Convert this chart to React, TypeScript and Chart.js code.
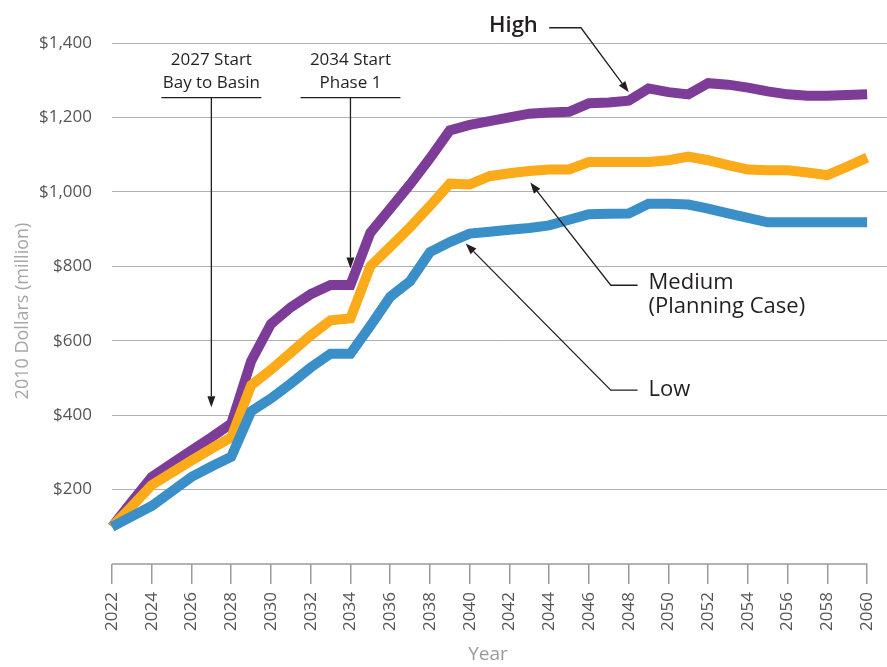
import React, { useEffect, useRef } from "react";
import { Chart, registerables } from "chart.js";

Chart.register(...registerables);

// ---------- data ----------
const years = [
  2022, 2023, 2024, 2025, 2026, 2027, 2028, 2029, 2030, 2031,
  2032, 2033, 2034, 2035, 2036, 2037, 2038, 2039, 2040, 2041,
  2042, 2043, 2044, 2045, 2046, 2047, 2048, 2049, 2050, 2051,
  2052, 2053, 2054, 2055, 2056, 2057, 2058, 2059, 2060,
];

const highValues = [
  100, 168, 234, 270, 305, 340, 377, 545, 645, 690,
  725, 750, 750, 890, 955, 1020, 1090, 1165, 1180, 1190,
  1200, 1210, 1213, 1215, 1238, 1240, 1245, 1278, 1268, 1262,
  1292, 1288, 1280, 1270, 1262, 1258, 1258, 1260, 1262,
];

const mediumValues = [
  100, 155, 212, 245, 278, 310, 340, 480, 522, 568,
  614, 655, 660, 800, 852, 905, 962, 1022, 1020, 1042,
  1050, 1056, 1060, 1060, 1080, 1080, 1080, 1080, 1085, 1095,
  1085, 1072, 1060, 1058, 1058, 1052, 1045, 1068, 1092,
];

const lowValues = [
  100, 128, 156, 195, 234, 262, 288, 410, 445, 485,
  528, 565, 565, 640, 718, 760, 838, 865, 888, 893,
  898, 903, 910, 925, 940, 941, 942, 968, 968, 966,
  955, 942, 930, 918, 918, 918, 918, 918, 918,
];

const xTickYears = [
  2022, 2024, 2026, 2028, 2030, 2032, 2034, 2036, 2038, 2040,
  2042, 2044, 2046, 2048, 2050, 2052, 2054, 2056, 2058, 2060,
];
const yTickValues = [0, 200, 400, 600, 800, 1000, 1200, 1400];
const yTickLabels = ["", "$200", "$400", "$600", "$800", "$1,000", "$1,200", "$1,400"];

const seriesNames = ["High", "Medium", "Low"];
const yAxisTitle = "2010 Dollars (million)";
const xAxisTitle = "Year";

// ---------- styles ----------
const FONT = "'Open Sans', 'Noto Sans', sans-serif";
const colors = { high: "#7D3C98", medium: "#FBAA1A", low: "#3A8FC8" };
const INK = "#231f20";

function drawArrow(ctx: CanvasRenderingContext2D, pts: number[][]) {
  const n = pts.length;
  const [tx, ty] = pts[n - 1];
  const [px, py] = pts[n - 2];
  const ang = Math.atan2(ty - py, tx - px);
  const headLen = 11;
  const headHalf = 4;
  const bx = tx - headLen * Math.cos(ang);
  const by = ty - headLen * Math.sin(ang);
  ctx.save();
  ctx.strokeStyle = INK;
  ctx.fillStyle = INK;
  ctx.lineWidth = 1.3;
  ctx.beginPath();
  ctx.moveTo(pts[0][0], pts[0][1]);
  for (let i = 1; i < n - 1; i++) ctx.lineTo(pts[i][0], pts[i][1]);
  ctx.lineTo(bx, by);
  ctx.stroke();
  ctx.beginPath();
  ctx.moveTo(tx, ty);
  ctx.lineTo(bx + headHalf * Math.sin(ang), by - headHalf * Math.cos(ang));
  ctx.lineTo(bx - headHalf * Math.sin(ang), by + headHalf * Math.cos(ang));
  ctx.closePath();
  ctx.fill();
  ctx.restore();
}

const annotationPlugin = {
  id: "customAnnotations",
  afterDraw(chart: any) {
    const { ctx, scales, chartArea } = chart;
    const xs = scales.x;
    const ys = scales.y;
    const X = (v: number) => xs.getPixelForValue(v);
    const Y = (v: number) => ys.getPixelForValue(v);

    ctx.save();
    // x axis line from first to last year
    ctx.strokeStyle = "#9a9a9a";
    ctx.lineWidth = 1.5;
    ctx.beginPath();
    ctx.moveTo(X(xTickYears[0]), chartArea.bottom);
    ctx.lineTo(X(xTickYears[xTickYears.length - 1]), chartArea.bottom);
    ctx.stroke();

    // axis titles
    ctx.fillStyle = "#a6a6a6";
    ctx.font = `18px ${FONT}`;
    ctx.textAlign = "center";
    ctx.textBaseline = "middle";
    ctx.save();
    ctx.translate(23, 311);
    ctx.rotate(-Math.PI / 2);
    ctx.fillText(yAxisTitle, 0, 0);
    ctx.restore();
    ctx.fillStyle = "#9a9a9a";
    ctx.font = `19px ${FONT}`;
    ctx.fillText(xAxisTitle, 488, 655);

    // start annotations
    ctx.fillStyle = INK;
    ctx.font = `17px ${FONT}`;
    const starts = [
      { year: 2027, l1: "2027 Start", l2: "Bay to Basin", tip: 421, half: 50 },
      { year: 2034, l1: "2034 Start", l2: "Phase 1", tip: 794, half: 50 },
    ];
    starts.forEach((s) => {
      const cx = X(s.year);
      ctx.textAlign = "center";
      ctx.fillText(s.l1, cx, Y(1355));
      ctx.fillText(s.l2, cx, Y(1293));
      ctx.strokeStyle = INK;
      ctx.lineWidth = 1.3;
      ctx.beginPath();
      ctx.moveTo(cx - s.half, Y(1253));
      ctx.lineTo(cx + s.half, Y(1253));
      ctx.stroke();
      drawArrow(ctx, [[cx, Y(1253)], [cx, Y(s.tip)]]);
    });

    // series labels
    ctx.font = `600 22px ${FONT}`;
    ctx.textAlign = "center";
    ctx.fillText(seriesNames[0], X(2042.2), Y(1446));
    drawArrow(ctx, [[X(2044.0), Y(1441)], [X(2045.6), Y(1441)], [X(2048.0), Y(1268)]]);

    ctx.font = `22px ${FONT}`;
    ctx.textAlign = "left";
    ctx.fillText(seriesNames[1], X(2049.0), Y(756));
    ctx.fillText("(Planning Case)", X(2049.0), Y(690));
    drawArrow(ctx, [[X(2048.45), Y(749)], [X(2047.1), Y(749)], [X(2043.05), Y(1025)]]);

    ctx.fillText(seriesNames[2], X(2049.0), Y(467));
    drawArrow(ctx, [[X(2048.45), Y(467)], [X(2047.1), Y(467)], [X(2039.8), Y(861)]]);
    ctx.restore();
  },
};

export default function App() {
  const ref = useRef<HTMLCanvasElement>(null);
  useEffect(() => {
    const toPts = (vals: number[]) => vals.map((v, i) => ({ x: years[i], y: v }));
    const common = {
      borderWidth: 10,
      pointRadius: 0,
      pointHoverRadius: 0,
      tension: 0,
      fill: false,
      borderJoinStyle: "miter" as const,
      borderCapStyle: "butt" as const,
      clip: false as any,
    };
    const chart = new Chart(ref.current!, {
      type: "line",
      data: {
        datasets: [
          { ...common, label: seriesNames[0], data: toPts(highValues), borderColor: colors.high, backgroundColor: colors.high, order: 2 },
          { ...common, label: seriesNames[1], data: toPts(mediumValues), borderColor: colors.medium, backgroundColor: colors.medium, order: 1 },
          { ...common, label: seriesNames[2], data: toPts(lowValues), borderColor: colors.low, backgroundColor: colors.low, order: 0 },
        ],
      },
      options: {
        animation: false,
        responsive: false,
        events: [],
        layout: { padding: { top: 43, right: 0, left: 0, bottom: 0 } },
        plugins: {
          legend: { display: false },
          tooltip: { enabled: false },
        },
        scales: {
          x: {
            type: "linear",
            min: 2022,
            max: 2061,
            afterBuildTicks: (scale: any) => {
              scale.ticks = xTickYears.map((value) => ({ value }));
            },
            afterFit: (scale: any) => {
              scale.height = 103;
              scale.paddingLeft = 0;
              scale.paddingRight = 0;
              scale.paddingTop = 0;
              scale.paddingBottom = 0;
            },
            border: { display: false },
            grid: {
              display: true,
              drawOnChartArea: false,
              drawTicks: true,
              tickLength: 20,
              color: "#9a9a9a",
              lineWidth: 1.5,
            },
            ticks: {
              autoSkip: false,
              minRotation: 90,
              maxRotation: 90,
              padding: 8,
              color: "#555555",
              font: { family: FONT, size: 17 },
              callback: (v: any) => String(v),
            },
          },
          y: {
            type: "linear",
            min: 0,
            max: 1400,
            afterBuildTicks: (scale: any) => {
              scale.ticks = yTickValues.map((value) => ({ value }));
            },
            afterFit: (scale: any) => {
              scale.width = 112;
              scale.paddingTop = 0;
              scale.paddingBottom = 0;
            },
            border: { display: false },
            grid: {
              drawTicks: false,
              color: (c: any) => (c.tick && c.tick.value === 0 ? "rgba(0,0,0,0)" : "#b0b0b0"),
              lineWidth: 1,
            },
            ticks: {
              padding: 20,
              color: "#555555",
              font: { family: FONT, size: 17 },
              callback: (v: any) => {
                const i = yTickValues.indexOf(Number(v));
                return i >= 0 ? yTickLabels[i] : "";
              },
            },
          },
        },
      },
      plugins: [annotationPlugin],
    });
    return () => chart.destroy();
  }, []);
  return (
    <div style={{ position: "absolute", left: 0, top: 0, width: 887, height: 667, background: "#fff" }}>
      <canvas ref={ref} width={887} height={667} style={{ display: "block" }} />
    </div>
  );
}
